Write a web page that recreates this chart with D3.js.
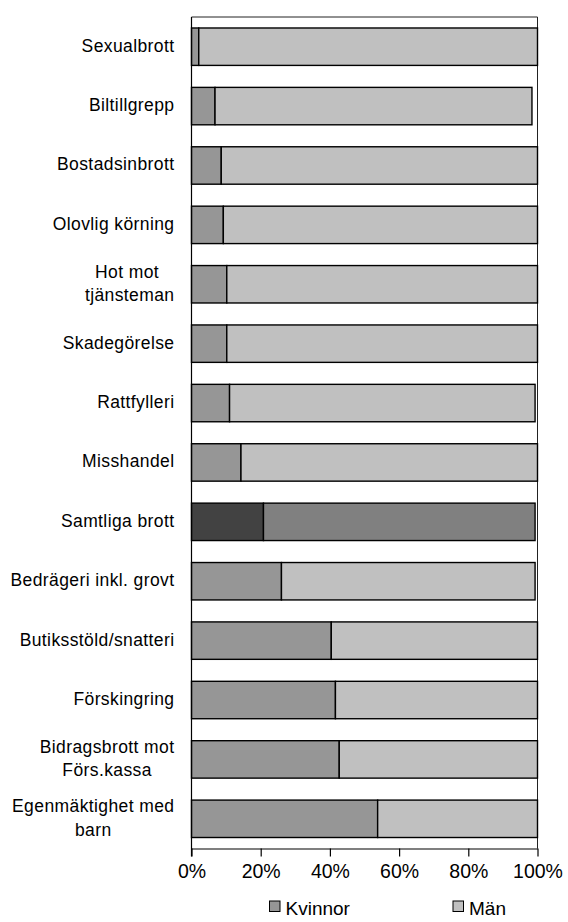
<!DOCTYPE html>
<html>
<head>
<meta charset="utf-8">
<script src="https://cdn.jsdelivr.net/npm/d3@7"></script>
<style>
  body { margin: 0; background: #fff; }
  svg { display: block; font-family: "Liberation Sans", Arial, sans-serif; }
</style>
</head>
<body>
<svg width="568" height="922"></svg>
<script>
// brottstyper, uppifrån och ner
var categories = ["Sexualbrott", "Biltillgrepp", "Bostadsinbrott", "Olovlig körning",
    "Hot mot \ntjänsteman", "Skadegörelse", "Rattfylleri", "Misshandel", "Samtliga brott",
    "Bedrägeri inkl. grovt", "Butiksstöld/snatteri", "Förskingring",
    "Bidragsbrott mot\nFörs.kassa", "Egenmäktighet med\nbarn"];
var kvinnor = [2.1, 6.8, 8.6, 9.2, 10.2, 10.2, 11.0, 14.3, 20.8, 26.0, 40.4, 41.6, 42.7, 53.8];
var man = [97.9, 91.6, 91.4, 90.8, 89.8, 89.8, 88.3, 85.7, 78.5, 73.3, 59.6, 58.4, 57.3, 46.2];
var ticks = [0, 20, 40, 60, 80, 100];
var highlight = "Samtliga brott";

var svg = d3.select("svg");

var plotLeft = 191.5, plotRight = 537.5, plotTop = 17, plotBottom = 848.5;

var x = d3.scaleLinear().domain([0, 100]).range([plotLeft, plotRight]);
var y = d3.scaleBand()
    .domain(categories)
    .range([plotTop, plotBottom])
    .paddingInner(0.37)
    .paddingOuter(0.185);

// ram: topp och höger
svg.append("path")
    .attr("d", "M" + plotLeft + "," + plotTop + "H" + plotRight + "V" + plotBottom)
    .attr("fill", "none")
    .attr("stroke", "#222")
    .attr("stroke-width", 1);

var rows = categories.map(function(c, i) {
  return { cat: c, k: kvinnor[i], m: man[i] };
});

var isHi = function(d) { return d.cat.replace(/\n/g, " ").trim() === highlight; };

var g = svg.append("g");
g.selectAll("rect.k")
    .data(rows)
  .enter().append("rect")
    .attr("x", x(0))
    .attr("y", function(d) { return y(d.cat); })
    .attr("width", function(d) { return x(d.k) - x(0); })
    .attr("height", y.bandwidth())
    .attr("fill", function(d) { return isHi(d) ? "#424242" : "#969696"; })
    .attr("stroke", "#000")
    .attr("stroke-width", 1.4);

g.selectAll("rect.m")
    .data(rows)
  .enter().append("rect")
    .attr("x", function(d) { return x(d.k); })
    .attr("y", function(d) { return y(d.cat); })
    .attr("width", function(d) { return x(d.k + d.m) - x(d.k); })
    .attr("height", y.bandwidth())
    .attr("fill", function(d) { return isHi(d) ? "#808080" : "#c0c0c0"; })
    .attr("stroke", "#000")
    .attr("stroke-width", 1.4);

// x-axel
var xAxis = svg.append("g")
    .attr("transform", "translate(0," + plotBottom + ")")
    .call(d3.axisBottom(x).tickValues(ticks).tickSize(8).tickSizeOuter(0)
        .tickFormat(function(d) { return d + "%"; }));
xAxis.select(".domain").attr("stroke", "#000").attr("stroke-width", 1.2);
xAxis.selectAll(".tick line").attr("stroke", "#000").attr("stroke-width", 1.2);
xAxis.selectAll(".tick text")
    .attr("y", 29)
    .attr("dy", 0)
    .attr("fill", "#000")
    .style("font-size", "19.5px")
    .style("font-family", "'Liberation Sans', Arial, sans-serif");

// y-axel
svg.append("line")
    .attr("x1", plotLeft).attr("x2", plotLeft)
    .attr("y1", plotTop).attr("y2", plotBottom + 8)
    .attr("stroke", "#000")
    .attr("stroke-width", 1.2);

// kategorietiketter
var labelX = 174.5, lh = 23.5;
var labels = svg.append("g")
    .style("font-size", "17.5px")
    .style("letter-spacing", "0.4px")
    .attr("fill", "#000");

categories.forEach(function(c) {
  var lines = c.split("\n");
  var cy = y(c) + y.bandwidth() / 2;
  var t = labels.append("text");
  lines.forEach(function(s, j) {
    t.append("tspan")
        .attr("y", cy + 5 - (lines.length - 1) * lh / 2 + j * lh)
        .text(s);
  });
  var w = 0;
  t.selectAll("tspan").each(function() { w = Math.max(w, this.getComputedTextLength()); });
  t.attr("text-anchor", "middle");
  t.selectAll("tspan").attr("x", labelX - w / 2);
});

// legend
var legend = [
  { name: "Kvinnor", color: "#969696", x: 269.5 },
  { name: "Män", color: "#c0c0c0", x: 453 }
];
var lg = svg.selectAll("g.legend")
    .data(legend)
  .enter().append("g")
    .attr("transform", function(d) { return "translate(" + d.x + ",901)"; });
lg.append("rect")
    .attr("width", 10.5).attr("height", 10.5)
    .attr("fill", function(d) { return d.color; })
    .attr("stroke", "#000")
    .attr("stroke-width", 1);
lg.append("text")
    .attr("x", 16)
    .attr("y", 13.5)
    .style("font-size", "19px")
    .attr("fill", "#000")
    .text(function(d) { return d.name; });
</script>
</body>
</html>
